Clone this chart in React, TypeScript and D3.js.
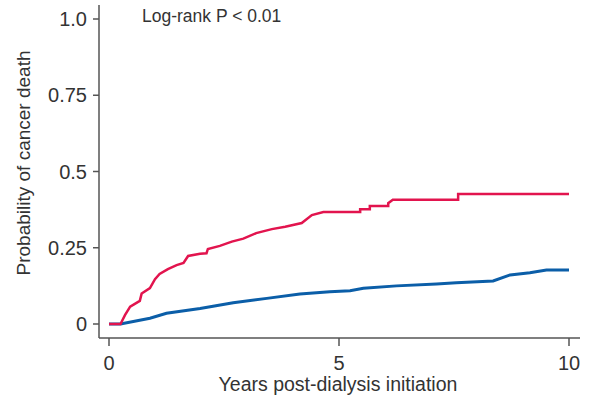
import React from "react";
import * as d3 from "d3";

const WIDTH = 591;
const HEIGHT = 401;

// Cumulative incidence (years, probability).
// Repeated times mark the visible vertical steps of the Kaplan-Meier style curve.
const redTimes = [0, 0.25, 0.35, 0.46, 0.67, 0.71, 0.89, 1.0, 1.1, 1.28, 1.47, 1.62, 1.72, 1.98, 2.12, 2.15, 2.41, 2.67, 2.92, 3.2, 3.54, 3.83, 4.19, 4.41, 4.66, 5.46, 5.46, 5.67, 5.67, 6.07, 6.07, 6.17, 7.59, 7.59, 10];
const redValues = [0, 0, 0.03, 0.057, 0.076, 0.1, 0.118, 0.147, 0.164, 0.18, 0.193, 0.2, 0.223, 0.23, 0.232, 0.246, 0.256, 0.27, 0.28, 0.298, 0.311, 0.319, 0.331, 0.357, 0.367, 0.367, 0.376, 0.376, 0.387, 0.387, 0.396, 0.407, 0.407, 0.426, 0.426];

const blueTimes = [0, 0.25, 0.89, 1.25, 1.98, 2.7, 3.43, 4.15, 4.8, 5.24, 5.53, 6.25, 7.12, 7.55, 8.35, 8.72, 9.15, 9.51, 10];
const blueValues = [0, 0, 0.019, 0.035, 0.051, 0.07, 0.084, 0.098, 0.106, 0.109, 0.117, 0.125, 0.131, 0.135, 0.141, 0.161, 0.168, 0.177, 0.177];

const xTicks = [0, 5, 10];
const yTicks = [0, 0.25, 0.5, 0.75, 1];
const yTickLabels = ["0", "0.25", "0.5", "0.75", "1.0"];

const FONT = "Liberation Sans, Arial, sans-serif";
const AXIS = "#555";
const TEXT = "#333";

export default function App() {
  const x = d3.scaleLinear().domain([0, 10]).range([109, 569]);
  const y = d3.scaleLinear().domain([0, 1]).range([324, 19]);

  const line = d3
    .line<[number, number]>()
    .x((d) => x(d[0]))
    .y((d) => y(d[1]));

  const red = redTimes.map((t, i) => [t, redValues[i]] as [number, number]);
  const blue = blueTimes.map((t, i) => [t, blueValues[i]] as [number, number]);

  return (
    <svg
      width={WIDTH}
      height={HEIGHT}
      style={{ position: "absolute", left: 0, top: 0, background: "#fff" }}
      fontFamily={FONT}
    >
      {/* axes */}
      <line x1={99} x2={99} y1={5} y2={338} stroke={AXIS} strokeWidth={1.5} />
      <line x1={99} x2={580} y1={338} y2={338} stroke={AXIS} strokeWidth={1.5} />

      {yTicks.map((t, i) => (
        <g key={"y" + t}>
          <line x1={93} x2={99} y1={y(t)} y2={y(t)} stroke={AXIS} strokeWidth={1.5} />
          <text x={87} y={y(t)} dy="0.36em" textAnchor="end" fontSize={20} fill={TEXT}>
            {yTickLabels[i]}
          </text>
        </g>
      ))}

      {xTicks.map((t) => (
        <g key={"x" + t}>
          <line x1={x(t)} x2={x(t)} y1={338} y2={346} stroke={AXIS} strokeWidth={1.5} />
          <text x={x(t)} y={370} textAnchor="middle" fontSize={20} fill={TEXT}>
            {t}
          </text>
        </g>
      ))}

      <text x={338} y={391} textAnchor="middle" fontSize={19.5} fill={TEXT}>
        Years post-dialysis initiation
      </text>
      <text
        transform="translate(30,163) rotate(-90)"
        textAnchor="middle"
        fontSize={19}
        fill={TEXT}
      >
        Probability of cancer death
      </text>

      <text x={142} y={22} fontSize={17.5} fill={TEXT}>
        Log-rank P &lt; 0.01
      </text>

      {/* curves */}
      <path d={line(blue) ?? ""} fill="none" stroke="#0b5ea8" strokeWidth={3} />
      <path d={line(red) ?? ""} fill="none" stroke="#e2144e" strokeWidth={2.5} />
    </svg>
  );
}
